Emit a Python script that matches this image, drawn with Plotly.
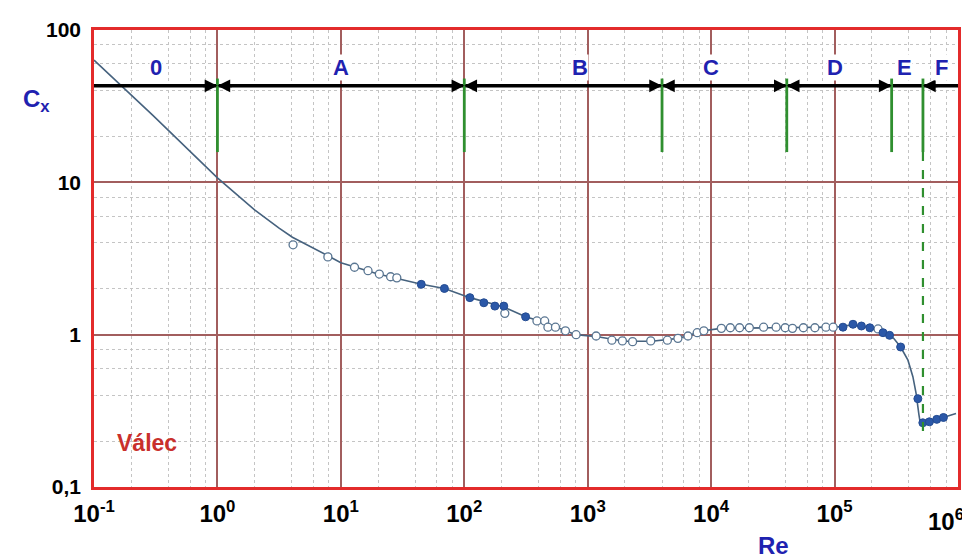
import numpy as np
import plotly.graph_objects as go

# ---- data ----
curve_re = [0.1, 0.3, 1, 1.5, 2, 3.16, 4.05, 7.85, 10, 20, 45, 69, 111, 209, 314, 450, 800,
            1200, 2000, 3300, 5400, 8700, 12000, 30000, 100000, 141000, 193000, 247000,
            300000, 343000, 393000, 431000, 458000, 482000, 494000, 587000, 762000, 964000]
curve_cx = [63.5, 27.5, 10.7, 8.0, 6.6, 5.0, 4.36, 3.3, 2.97, 2.5, 2.14, 2.01, 1.75, 1.52, 1.31, 1.2, 1.0,
            0.97, 0.905, 0.905, 0.945, 1.06, 1.1, 1.11, 1.12, 1.16, 1.11, 1.03,
            0.95, 0.83, 0.68, 0.53, 0.41, 0.30, 0.265, 0.268, 0.286, 0.304]

open_re = [4.1, 7.85, 12.9, 16.6, 20.5, 25.3, 28.4, 213, 388, 448, 476, 548, 660, 805, 1170, 1570,
           1910, 2310, 3240, 4420, 5380, 6490, 7710, 8730, 12100, 14300, 17000, 20400, 26600,
           33600, 39800, 45600, 55900, 69300, 85100, 97500, 225000]
open_cx = [3.89, 3.24, 2.77, 2.63, 2.50, 2.40, 2.36, 1.38, 1.23, 1.23, 1.12, 1.12, 1.06, 1.00, 0.98, 0.92,
           0.91, 0.90, 0.91, 0.92, 0.946, 0.98, 1.03, 1.06, 1.10, 1.11, 1.11, 1.11, 1.12,
           1.12, 1.11, 1.10, 1.11, 1.11, 1.12, 1.12, 1.09]

filled_re = [44.8, 69, 111, 144, 177, 209, 314, 117000, 141000, 165000, 193000, 247000, 279000,
             343000, 473000, 519000, 587000, 673000, 762000]
filled_cx = [2.14, 2.01, 1.75, 1.62, 1.54, 1.54, 1.31, 1.12, 1.17, 1.14, 1.11, 1.03, 0.99,
             0.83, 0.38, 0.264, 0.268, 0.278, 0.286]

region_bounds = [1, 100, 4000, 41000, 290000, 520000]
region_names = ["0", "A", "B", "C", "D", "E", "F"]
region_label_re = [0.32, 10, 860, 10000, 100000, 370000, 730000]
arrow_level = 43          # Cx value of the black arrow line
bound_top, bound_bottom = 48, 15.8
transition_bottom = 0.23  # end of dashed line at the last boundary

x_tickvals = [0.1, 1, 10, 100, 1000, 10000, 100000, 1000000]
x_ticktext = ["10<sup>-1</sup>", "10<sup>0</sup>", "10<sup>1</sup>", "10<sup>2</sup>",
              "10<sup>3</sup>", "10<sup>4</sup>", "10<sup>5</sup>", "10<sup>6</sup>"]
y_tickvals = [0.1, 1, 10, 100]
y_ticktext = ["0,1", "1", "10", "100"]

FONT = "Liberation Sans, Arial, sans-serif"
BLUE = "#1f22b0"
GREEN = "#2f8f2f"

fig = go.Figure()

# curve
fig.add_trace(go.Scatter(x=curve_re, y=curve_cx, mode="lines",
                         line=dict(color="#46627e", width=1.6), hoverinfo="skip"))
# open markers
fig.add_trace(go.Scatter(x=open_re, y=open_cx, mode="markers",
                         marker=dict(symbol="circle", size=8, color="white",
                                     line=dict(color="#5a7692", width=1.3))))
# filled markers
fig.add_trace(go.Scatter(x=filled_re, y=filled_cx, mode="markers",
                         marker=dict(symbol="circle", size=8, color="#2b58a8",
                                     line=dict(color="#244c92", width=1))))

# black arrow line across the plot
fig.add_trace(go.Scatter(x=[x_tickvals[0], x_tickvals[-1]], y=[arrow_level, arrow_level],
                         mode="lines", line=dict(color="black", width=3.5), hoverinfo="skip"))

# green boundary segments
gx, gy = [], []
for b in region_bounds:
    gx += [b, b, None]
    gy += [bound_top, bound_bottom, None]
fig.add_trace(go.Scatter(x=gx, y=gy, mode="lines", line=dict(color=GREEN, width=2.8),
                         hoverinfo="skip"))
fig.add_trace(go.Scatter(x=[region_bounds[-1], region_bounds[-1]], y=[bound_bottom, transition_bottom],
                         mode="lines", line=dict(color=GREEN, width=2.2, dash="dash"),
                         hoverinfo="skip"))

annotations = []
# arrowheads
for i, b in enumerate(region_bounds):
    from_left = i != len(region_bounds) - 1
    from_right = i != len(region_bounds) - 2
    for side, ok in ((-1, from_left), (1, from_right)):
        if not ok:
            continue
        annotations.append(dict(x=np.log10(b), y=np.log10(arrow_level), xref="x", yref="y",
                                ax=side * 16, ay=0, text="", showarrow=True, arrowhead=2,
                                arrowsize=0.85, arrowwidth=3, arrowcolor="black", standoff=0))
# region labels
for name, xr in zip(region_names, region_label_re):
    annotations.append(dict(x=np.log10(xr), y=np.log10(57), xref="x", yref="y", text=f"<b>{name}</b>",
                            showarrow=False, font=dict(family=FONT, size=22, color=BLUE),
                            bgcolor="white", borderpad=0))

# page has an 8px body margin: figure is placed at (8, 8) in the window
OFF = 8
W, H = 970 - OFF, 558 - OFF
L, R, T, B = 94 - OFF, 9, 30 - OFF, 71
pw, ph = W - L - R, H - T - B

def px(x, y):
    return (x - OFF - L) / pw, 1 - (y - OFF - T) / ph

for txt, (x, y), size, col, anchor in [("<b>C<sub>x</sub></b>", (36, 100), 24, BLUE, "center"),
                                       ("<b>Re</b>", (776, 545), 24, BLUE, "center"),
                                       ("<b>Válec</b>", (147, 443), 23, "#c9302c", "center"),
                                       ("<b>" + x_ticktext[-1] + "</b>", (969, 520), 24, "black", "right")]:
    xp, yp = px(x, y)
    annotations.append(dict(x=xp, y=yp, xref="paper", yref="paper", text=txt, showarrow=False,
                            xanchor=anchor, yanchor="middle",
                            font=dict(family=FONT, size=size, color=col)))

# the last tick label is placed by the annotation above (it sits against the right edge)
x_ticktext_axis = x_ticktext[:-1] + [""]

minor_x = [m * 10.0 ** e for e in range(-1, 6) for m in (2, 4, 6, 8)]
minor_y = [m * 10.0 ** e for e in range(-1, 2) for m in (2, 4, 6, 8)]

MAJOR = "#a25e5e"
MINOR = "#c4c4c4"

fig.update_layout(
    width=W, height=H, margin=dict(l=L, r=R, t=T, b=B),
    paper_bgcolor="white", plot_bgcolor="white", showlegend=False,
    annotations=annotations,
    xaxis=dict(type="log", range=[-1, 6], tickmode="array", tickvals=x_tickvals, ticktext=x_ticktext_axis,
               tickfont=dict(family=FONT, size=24, color="black", weight="bold"),
               ticks="outside", ticklen=3, tickcolor="rgba(0,0,0,0)",
               showgrid=True, gridcolor=MAJOR, gridwidth=1.5,
               minor=dict(tickvals=minor_x, showgrid=True, gridcolor=MINOR, griddash="dot", gridwidth=1,
                          ticks=""),
               showline=True, linecolor="#e32b2b", linewidth=2.6, mirror=True, zeroline=False),
    yaxis=dict(type="log", range=[-1, 2], tickmode="array", tickvals=y_tickvals, ticktext=y_ticktext,
               tickfont=dict(family=FONT, size=21, color="black", weight="bold"),
               ticks="outside", ticklen=6, tickcolor="rgba(0,0,0,0)",
               showgrid=True, gridcolor=MAJOR, gridwidth=1.5,
               minor=dict(tickvals=minor_y, showgrid=True, gridcolor=MINOR, griddash="dot", gridwidth=1,
                          ticks=""),
               showline=True, linecolor="#e32b2b", linewidth=2.6, mirror=True, zeroline=False),
)

fig.write_html("out.html")
